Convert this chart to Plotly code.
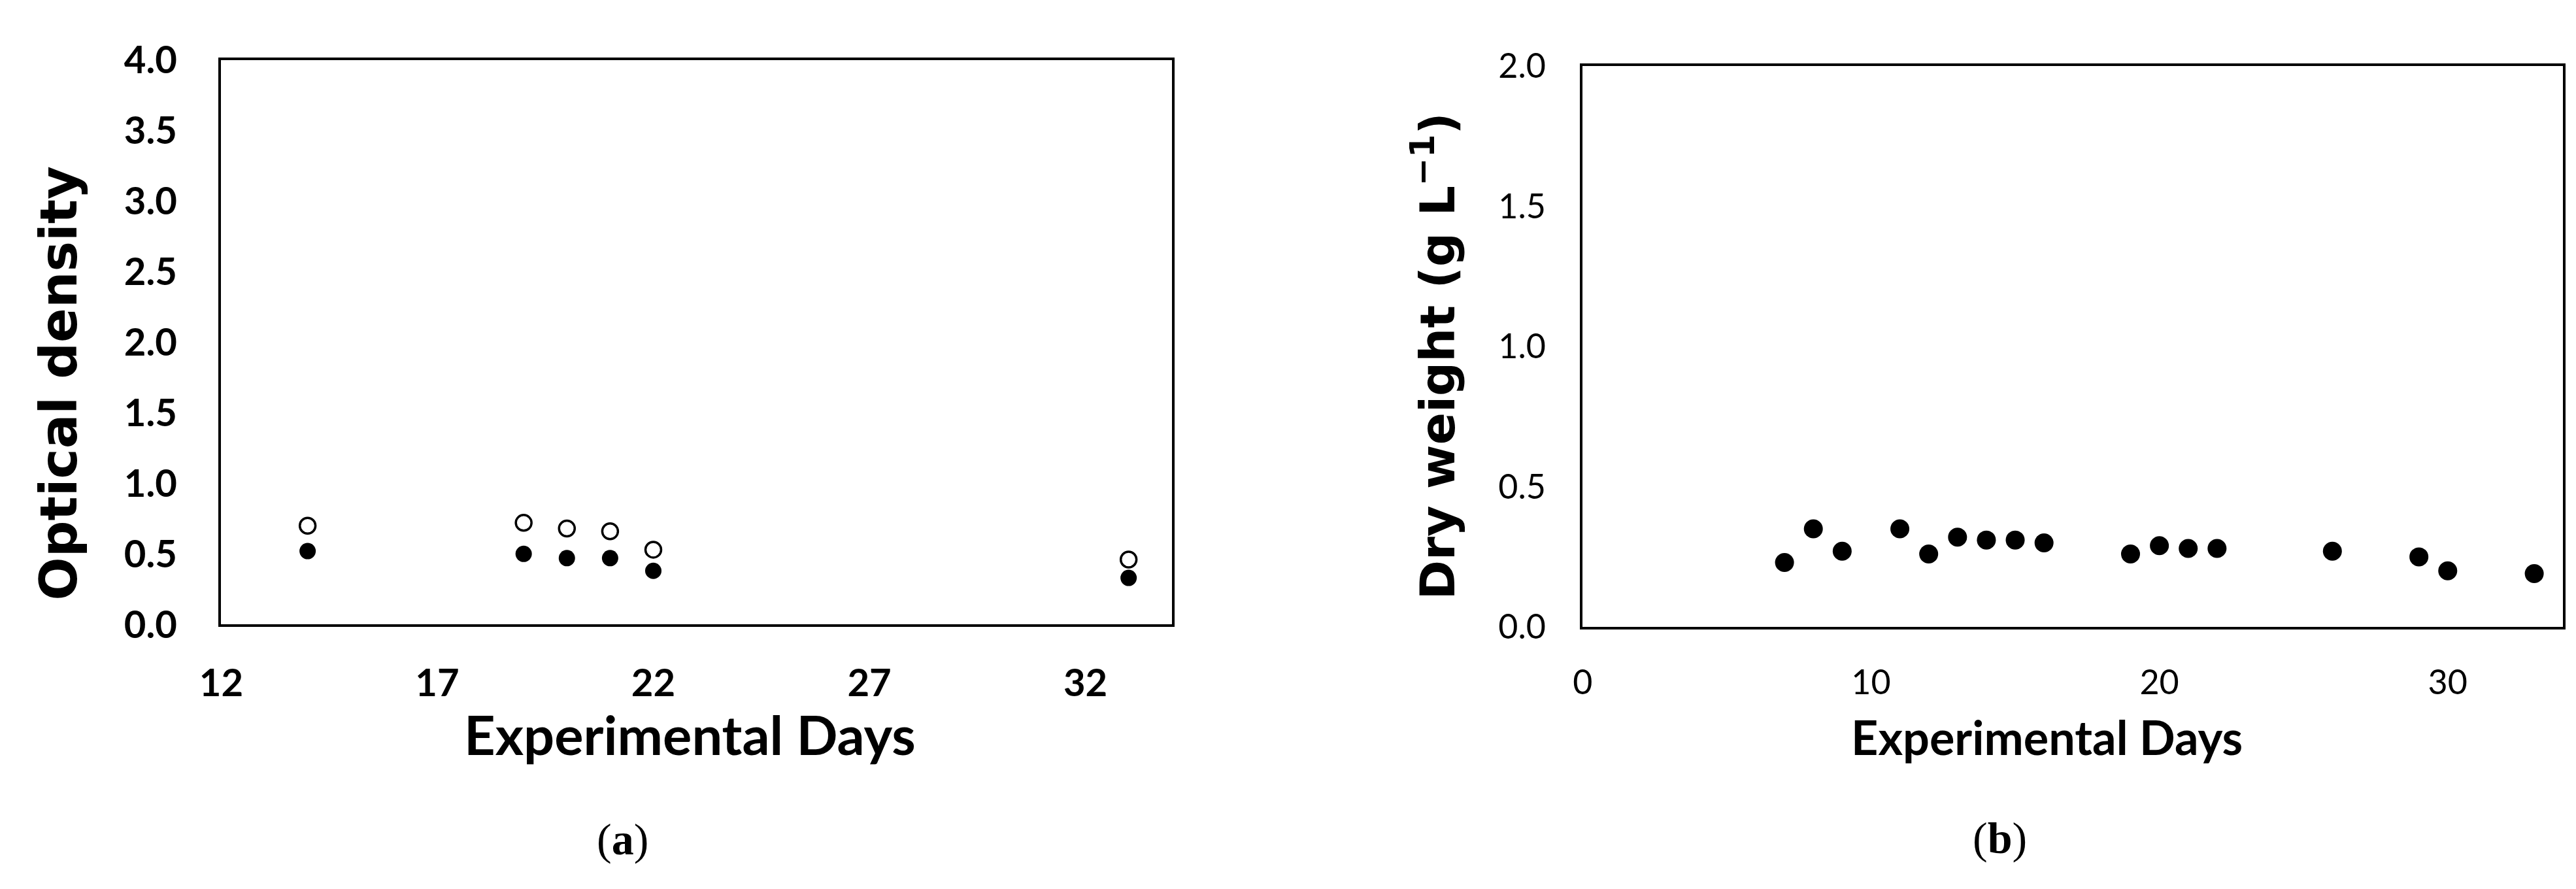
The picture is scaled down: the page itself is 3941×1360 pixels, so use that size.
import plotly.graph_objects as go

# ---- data ----
od_days = [14, 19, 20, 21, 22, 33]
od_open = [0.70, 0.72, 0.68, 0.66, 0.53, 0.46]
od_filled = [0.52, 0.50, 0.47, 0.47, 0.38, 0.33]

dw_days = [7, 8, 9, 11, 12, 13, 14, 15, 16, 19, 20, 21, 22, 26, 29, 30, 33]
dw_vals = [0.23, 0.35, 0.27, 0.35, 0.26, 0.32, 0.31, 0.31, 0.30, 0.26, 0.29, 0.28, 0.28, 0.27, 0.25, 0.20, 0.19]

left_xticks = [12, 17, 22, 27, 32]
left_yticks = [0.0, 0.5, 1.0, 1.5, 2.0, 2.5, 3.0, 3.5, 4.0]
right_xticks = [0, 10, 20, 30]
right_yticks = [0.0, 0.5, 1.0, 1.5, 2.0]

W, H = 3941, 1360

def px(x):
    return x / W

def py(y):
    return (H - y) / H

fig = go.Figure()

fig.add_trace(go.Scatter(
    x=od_days, y=od_open, mode="markers", xaxis="x", yaxis="y",
    marker=dict(symbol="circle", size=24, color="white", line=dict(color="black", width=3.5)),
    showlegend=False))
fig.add_trace(go.Scatter(
    x=od_days, y=od_filled, mode="markers", xaxis="x", yaxis="y",
    marker=dict(symbol="circle", size=25, color="black", line=dict(width=0)),
    showlegend=False))
fig.add_trace(go.Scatter(
    x=dw_days, y=dw_vals, mode="markers", xaxis="x2", yaxis="y2",
    marker=dict(symbol="circle", size=29, color="black", line=dict(width=0)),
    showlegend=False))

axis_common = dict(showline=True, linecolor="black", linewidth=4, mirror=True,
                   showgrid=False, zeroline=False, ticks="")

fig.update_layout(
    width=W, height=H, autosize=False,
    margin=dict(l=0, r=0, t=0, b=0),
    paper_bgcolor="white", plot_bgcolor="white",
    xaxis=dict(axis_common, domain=[px(299), px(1766)], range=[12, 34],
               tickvals=left_xticks, ticktext=[str(v) for v in left_xticks],
               tickfont=dict(family="Lato", size=58, color="black", weight="bold"),
               ticklabelstandoff=36, anchor="y"),
    yaxis=dict(axis_common, domain=[py(959), py(49)], range=[0, 4],
               tickvals=left_yticks, ticktext=[f"{v:.1f}" for v in left_yticks],
               tickfont=dict(family="Lato", size=58, color="black", weight="bold"),
               ticklabelstandoff=52, anchor="x"),
    xaxis2=dict(axis_common, domain=[px(2400), px(3913)], range=[0, 34],
                tickvals=right_xticks, ticktext=[str(v) for v in right_xticks],
                tickfont=dict(family="Lato", size=52, color="black"),
                ticklabelstandoff=36, anchor="y2"),
    yaxis2=dict(axis_common, domain=[py(963), py(59)], range=[0, 2],
                tickvals=right_yticks, ticktext=[f"{v:.1f}" for v in right_yticks],
                tickfont=dict(family="Lato", size=52, color="black"),
                ticklabelstandoff=42, anchor="x2"),
)

ann = []
ann.append(dict(text="<b>Optical density</b>", x=px(48), y=py(570), xref="paper", yref="paper",
                textangle=-90, showarrow=False, xanchor="center", yanchor="middle",
                font=dict(family="DejaVu Sans", size=78, color="black")))
ann.append(dict(text="<b>Dry weight (g L<sup>−1</sup>)</b>", x=px(2171), y=py(527), xref="paper", yref="paper",
                textangle=-90, showarrow=False, xanchor="center", yanchor="middle",
                font=dict(family="DejaVu Sans", size=73, color="black")))
ann.append(dict(text="<b>Experimental Days</b>", x=px(1022), y=py(1136), xref="paper", yref="paper",
                showarrow=False, xanchor="center", yanchor="middle",
                font=dict(family="Lato", size=83, color="black")))
ann.append(dict(text="<b>Experimental Days</b>", x=px(3116), y=py(1140), xref="paper", yref="paper",
                showarrow=False, xanchor="center", yanchor="middle",
                font=dict(family="Lato", size=72, color="black")))
ann.append(dict(text="(<b>a</b>)", x=px(918), y=py(1305), xref="paper", yref="paper",
                showarrow=False, xanchor="center", yanchor="middle",
                font=dict(family="Liberation Serif", size=68, color="black")))
ann.append(dict(text="(<b>b</b>)", x=px(3044), y=py(1303), xref="paper", yref="paper",
                showarrow=False, xanchor="center", yanchor="middle",
                font=dict(family="Liberation Serif", size=68, color="black")))
fig.update_layout(annotations=ann)

fig.write_html("out.html")
